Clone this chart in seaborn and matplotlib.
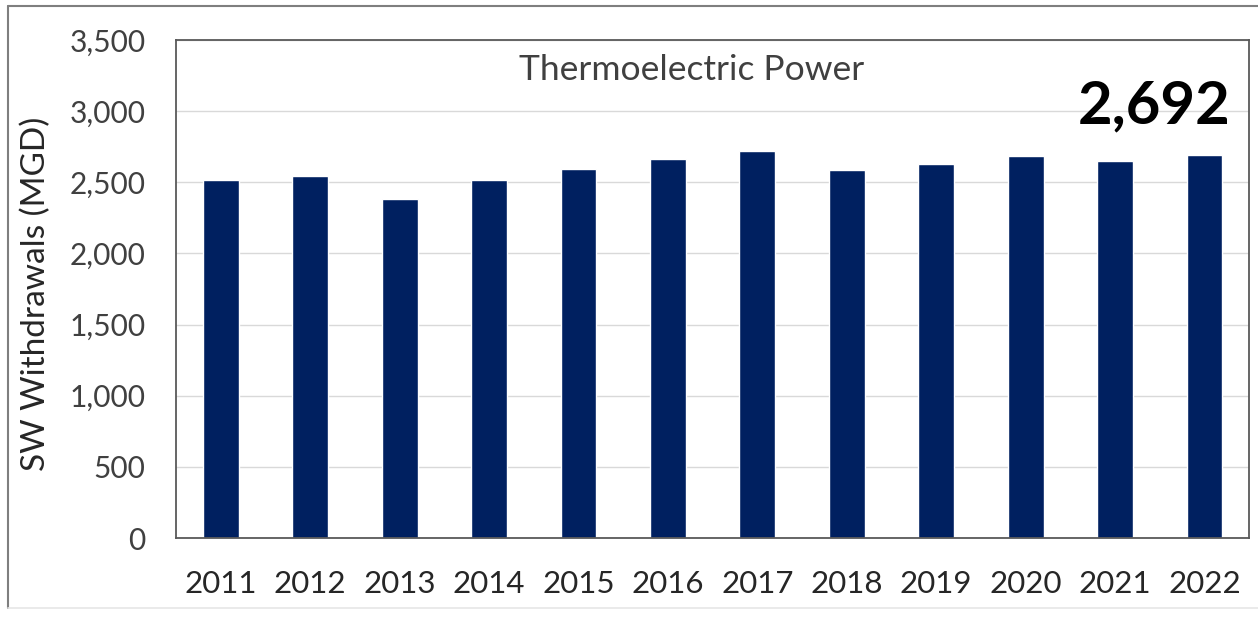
import matplotlib
matplotlib.use('Agg')
import matplotlib.pyplot as plt
from matplotlib.lines import Line2D
import seaborn as sns
import pandas as pd

# ── Data ──────────────────────────────────────────────────────────────────────
years = ['2011', '2012', '2013', '2014', '2015', '2016',
         '2017', '2018', '2019', '2020', '2021', '2022']
withdrawals = [2515, 2545, 2383, 2515, 2594, 2662,
               2723, 2589, 2627, 2685, 2648, 2692]
y_ticks = [0, 500, 1000, 1500, 2000, 2500, 3000, 3500]

df = pd.DataFrame({'year': years, 'mgd': withdrawals})

sns.set_theme(style='white')
plt.rcParams['font.family'] = ['Lato', 'DejaVu Sans']

NAVY = '#002060'
GREY_TXT = '#404040'

fig = plt.figure(figsize=(12.58, 6.17), dpi=100)
ax = fig.add_axes([0.140, 0.128, 0.853, 0.807])

sns.barplot(data=df, x='year', y='mgd', color=NAVY, width=0.4,
            saturation=1, ax=ax)

ax.set_ylim(0, 3500)
ax.set_yticks(y_ticks)
ax.set_yticklabels([f'{v:,}' for v in y_ticks])
ax.yaxis.grid(True, color='#d9d9d9', linewidth=1)
ax.set_axisbelow(True)

ax.tick_params(axis='y', length=0, pad=22, labelsize=21.5, labelcolor=GREY_TXT)
ax.tick_params(axis='x', length=0, pad=23, labelsize=22.5, labelcolor='#262626')
for s in ax.spines.values():
    s.set_visible(True)
    s.set_color('#595959')
    s.set_linewidth(1.3)

ax.set_xlabel('')
ax.set_ylabel('SW Withdrawals (MGD)', fontsize=24, color='#262626')
ax.yaxis.set_label_coords(-0.116, 0.49)

ax.text(0.48, 0.94, 'Thermoelectric Power', transform=ax.transAxes,
        ha='center', va='center', fontsize=25.5, color=GREY_TXT)
ax.text(0.911, 0.867, f'{withdrawals[-1]:,}', transform=ax.transAxes,
        ha='center', va='center', fontsize=43, fontweight='bold', color='black')

# outer frame of the original image
fig.add_artist(Line2D([8 / 1258, 1], [1 - 6 / 617, 1 - 6 / 617],
                      color='#7f7f7f', linewidth=1.5))
fig.add_artist(Line2D([8 / 1258, 8 / 1258], [1 - 6 / 617, 1 - 608 / 617],
                      color='#7f7f7f', linewidth=1.5))
fig.add_artist(Line2D([8 / 1258, 1], [1 - 608 / 617, 1 - 608 / 617],
                      color='#e6e6e6', linewidth=1.2))

plt.savefig('out.png', dpi=100, facecolor='white')
